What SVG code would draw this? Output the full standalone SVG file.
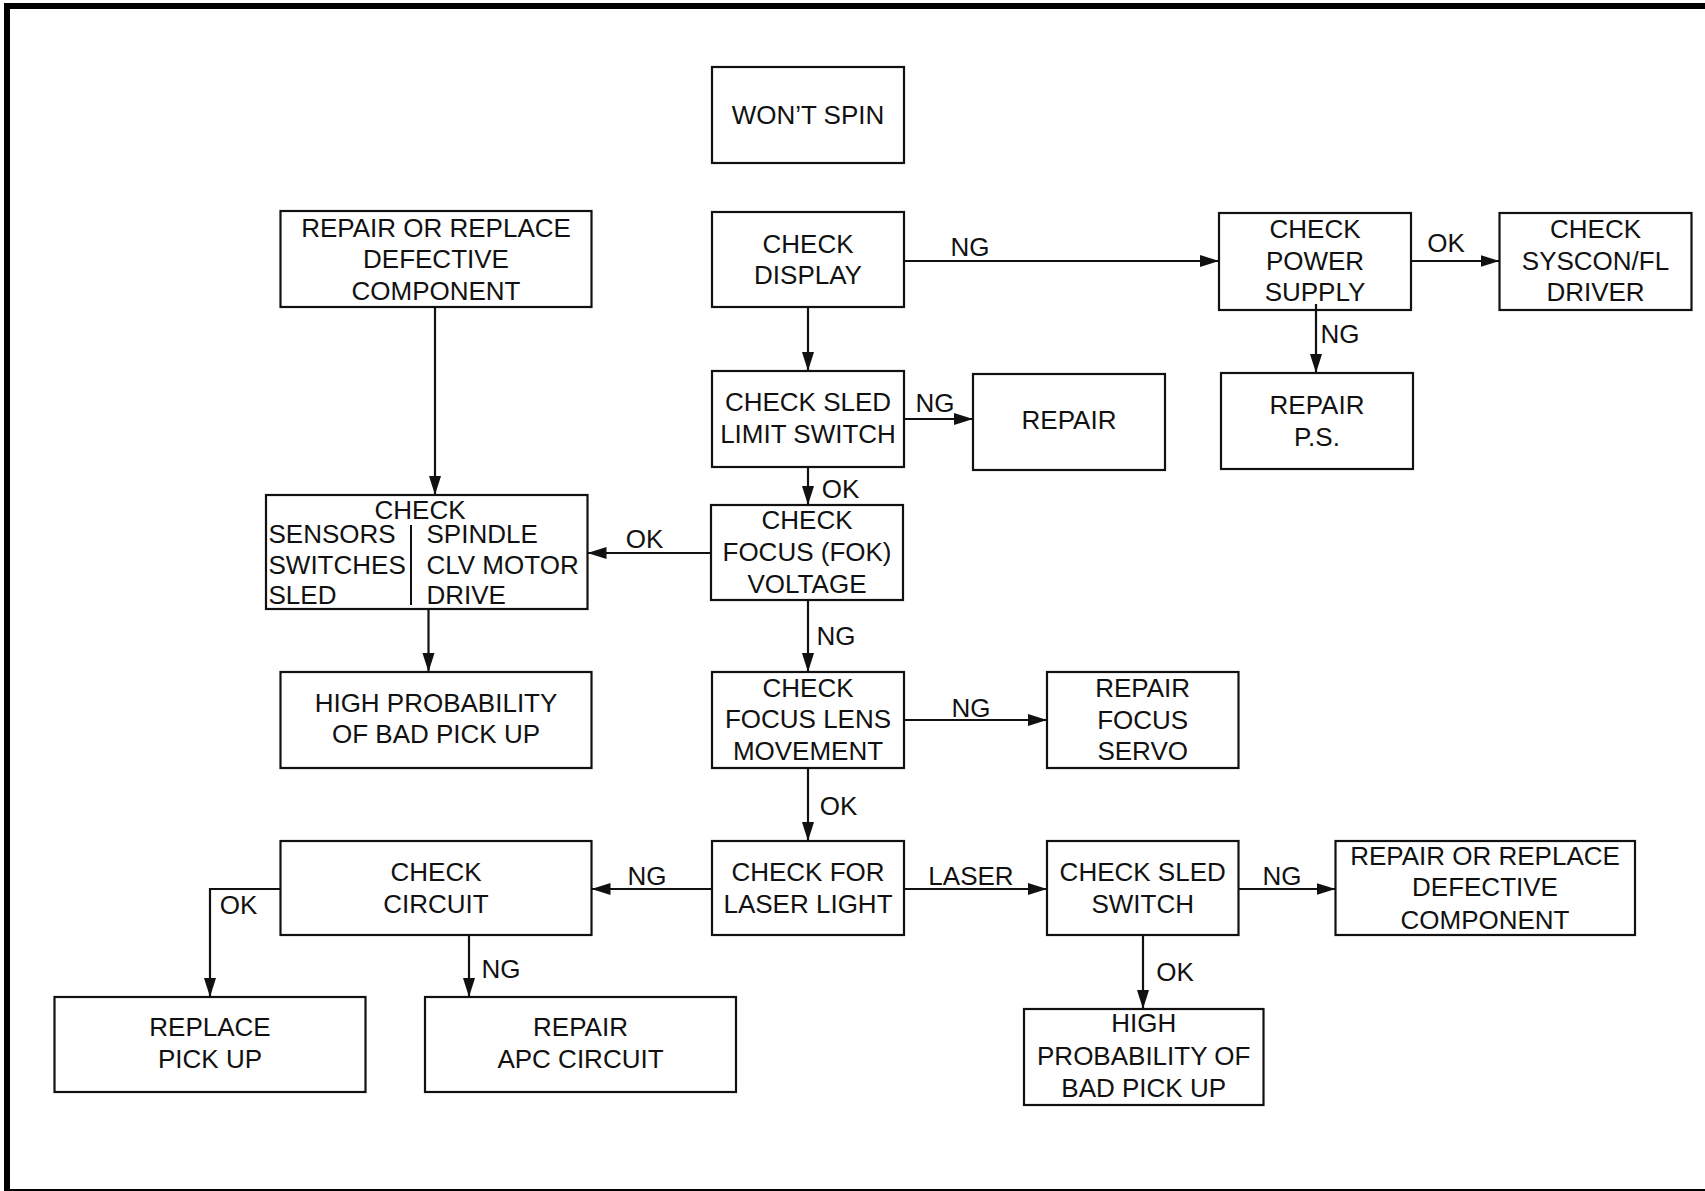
<svg xmlns="http://www.w3.org/2000/svg" width="1705" height="1191" viewBox="0 0 1705 1191">
<style>
  .box{fill:#fff;stroke:#111;stroke-width:2.2}
  .t{font-family:"Liberation Sans",Arial,sans-serif;font-size:26px;fill:#111;text-anchor:middle}
  .tl{font-family:"Liberation Sans",Arial,sans-serif;font-size:26px;fill:#111;text-anchor:start}
  .c{fill:none;stroke:#111;stroke-width:2.2}
</style>
<defs>
  <marker id="ah" markerUnits="userSpaceOnUse" markerWidth="20" markerHeight="13" refX="19" refY="6" orient="auto">
    <path d="M0,0 L19,6 L0,12 z" fill="#111"/>
  </marker>
</defs>
<rect x="0" y="0" width="1705" height="1191" fill="#fff"/>
<rect x="7" y="6" width="1720" height="1186" fill="none" stroke="#000" stroke-width="6"/>

<g id="n-wontspin"><rect class="box" x="712" y="67" width="192" height="96"/><text class="t" x="808" y="124">WON’T SPIN</text></g>
<g id="n-checkdisplay"><rect class="box" x="712" y="212" width="192" height="95"/><text class="t" x="808" y="252.5">CHECK</text><text class="t" x="808" y="284">DISPLAY</text></g>
<g id="n-repairreplace1"><rect class="box" x="280.5" y="211" width="311" height="96"/><text class="t" x="436" y="236.5">REPAIR OR REPLACE</text><text class="t" x="436" y="268">DEFECTIVE</text><text class="t" x="436" y="299.5">COMPONENT</text></g>
<g id="n-power"><rect class="box" x="1219" y="213" width="192" height="97"/><text class="t" x="1315" y="238">CHECK</text><text class="t" x="1315" y="269.5">POWER</text><text class="t" x="1315" y="301">SUPPLY</text></g>
<g id="n-syscon"><rect class="box" x="1499.5" y="213" width="192" height="97"/><text class="t" x="1595.5" y="238">CHECK</text><text class="t" x="1595.5" y="269.5">SYSCON/FL</text><text class="t" x="1595.5" y="301">DRIVER</text></g>
<g id="n-sledlimit"><rect class="box" x="712" y="371" width="192" height="96"/><text class="t" x="808" y="410.6">CHECK SLED</text><text class="t" x="808" y="443">LIMIT SWITCH</text></g>
<g id="n-repair"><rect class="box" x="973" y="374" width="192" height="96"/><text class="t" x="1069" y="429">REPAIR</text></g>
<g id="n-repairps"><rect class="box" x="1221" y="373" width="192" height="96"/><text class="t" x="1317" y="414">REPAIR</text><text class="t" x="1317" y="446">P.S.</text></g>
<g id="n-sensors"><rect class="box" x="266" y="495" width="321.5" height="114"/>
  <text class="t" x="420" y="519">CHECK</text>
  <text class="tl" x="268.5" y="543.3">SENSORS</text><text class="tl" x="268.5" y="574">SWITCHES</text><text class="tl" x="268.5" y="604">SLED</text>
  <line x1="411" y1="525" x2="411" y2="605" stroke="#111" stroke-width="2"/>
  <text class="tl" x="426.5" y="543.3">SPINDLE</text><text class="tl" x="426.5" y="574">CLV MOTOR</text><text class="tl" x="426.5" y="604">DRIVE</text>
</g>
<g id="n-fok"><rect class="box" x="711" y="505" width="192" height="95"/><text class="t" x="807" y="529">CHECK</text><text class="t" x="807" y="561">FOCUS (FOK)</text><text class="t" x="807" y="592.5">VOLTAGE</text></g>
<g id="n-highprob1"><rect class="box" x="280.5" y="672" width="311" height="96"/><text class="t" x="436" y="711.6">HIGH PROBABILITY</text><text class="t" x="436" y="743.3">OF BAD PICK UP</text></g>
<g id="n-focuslens"><rect class="box" x="712" y="672" width="192" height="96"/><text class="t" x="808" y="696.7">CHECK</text><text class="t" x="808" y="728.3">FOCUS LENS</text><text class="t" x="808" y="760">MOVEMENT</text></g>
<g id="n-repairfocus"><rect class="box" x="1047" y="672" width="191.5" height="96"/><text class="t" x="1142.7" y="697">REPAIR</text><text class="t" x="1142.7" y="728.5">FOCUS</text><text class="t" x="1142.7" y="760">SERVO</text></g>
<g id="n-checkcircuit"><rect class="box" x="280.5" y="841" width="311" height="94"/><text class="t" x="436" y="880.6">CHECK</text><text class="t" x="436" y="912.6">CIRCUIT</text></g>
<g id="n-laser"><rect class="box" x="712" y="841" width="192" height="94"/><text class="t" x="808" y="880.6">CHECK FOR</text><text class="t" x="808" y="912.6">LASER LIGHT</text></g>
<g id="n-sledswitch"><rect class="box" x="1047" y="841" width="191.5" height="94"/><text class="t" x="1142.7" y="880.6">CHECK SLED</text><text class="t" x="1142.7" y="912.6">SWITCH</text></g>
<g id="n-repairreplace2"><rect class="box" x="1335.5" y="841" width="299.5" height="94"/><text class="t" x="1485" y="864.7">REPAIR OR REPLACE</text><text class="t" x="1485" y="896.3">DEFECTIVE</text><text class="t" x="1485" y="928.6">COMPONENT</text></g>
<g id="n-replacepickup"><rect class="box" x="54.5" y="997" width="311" height="95"/><text class="t" x="210" y="1036.3">REPLACE</text><text class="t" x="210" y="1068">PICK UP</text></g>
<g id="n-repairapc"><rect class="box" x="425" y="997" width="311" height="95"/><text class="t" x="580.5" y="1036.3">REPAIR</text><text class="t" x="580.5" y="1068">APC CIRCUIT</text></g>
<g id="n-highprob2"><rect class="box" x="1024" y="1009" width="239.5" height="96"/><text class="t" x="1143.7" y="1032.3">HIGH</text><text class="t" x="1143.7" y="1065">PROBABILITY OF</text><text class="t" x="1143.7" y="1096.6">BAD PICK UP</text></g>

<g id="connectors">
  <line class="c" x1="808" y1="307" x2="808" y2="371" marker-end="url(#ah)"/>
  <line class="c" x1="904" y1="261" x2="1219" y2="261" marker-end="url(#ah)"/>
  <line class="c" x1="1411" y1="261" x2="1499.5" y2="261" marker-end="url(#ah)"/>
  <line class="c" x1="1316" y1="304" x2="1316" y2="373" marker-end="url(#ah)"/>
  <line class="c" x1="904" y1="419" x2="973" y2="419" marker-end="url(#ah)"/>
  <line class="c" x1="808" y1="467" x2="808" y2="505" marker-end="url(#ah)"/>
  <line class="c" x1="711" y1="553" x2="587.5" y2="553" marker-end="url(#ah)"/>
  <line class="c" x1="808" y1="600" x2="808" y2="672" marker-end="url(#ah)"/>
  <line class="c" x1="435" y1="307" x2="435" y2="495" marker-end="url(#ah)"/>
  <line class="c" x1="428.5" y1="609" x2="428.5" y2="672" marker-end="url(#ah)"/>
  <line class="c" x1="904" y1="720" x2="1047" y2="720" marker-end="url(#ah)"/>
  <line class="c" x1="808" y1="768" x2="808" y2="841" marker-end="url(#ah)"/>
  <line class="c" x1="712" y1="889" x2="591.5" y2="889" marker-end="url(#ah)"/>
  <line class="c" x1="904" y1="889" x2="1047" y2="889" marker-end="url(#ah)"/>
  <line class="c" x1="1238.5" y1="889" x2="1335.5" y2="889" marker-end="url(#ah)"/>
  <line class="c" x1="1143" y1="935" x2="1143" y2="1009" marker-end="url(#ah)"/>
  <polyline class="c" points="280.5,889 210,889 210,997" marker-end="url(#ah)"/>
  <line class="c" x1="469" y1="935" x2="469" y2="997" marker-end="url(#ah)"/>
  <text class="t" x="970" y="256">NG</text>
  <text class="t" x="1446" y="252">OK</text>
  <text class="t" x="1340" y="343">NG</text>
  <text class="t" x="935" y="412">NG</text>
  <text class="t" x="840.5" y="498">OK</text>
  <text class="t" x="644.5" y="548">OK</text>
  <text class="t" x="836" y="645">NG</text>
  <text class="t" x="971" y="717">NG</text>
  <text class="t" x="838.5" y="815">OK</text>
  <text class="t" x="647" y="885">NG</text>
  <text class="t" x="971" y="885">LASER</text>
  <text class="t" x="1282" y="885">NG</text>
  <text class="t" x="1175" y="981">OK</text>
  <text class="t" x="238.6" y="914">OK</text>
  <text class="t" x="501" y="978">NG</text>
</g>
</svg>
